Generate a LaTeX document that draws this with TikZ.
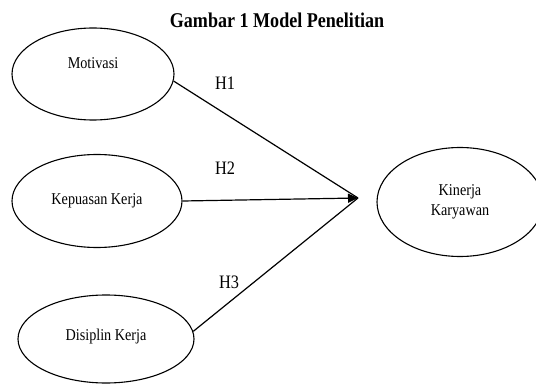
\documentclass[tikz,border=0pt]{standalone}
\usepackage{fontspec}
\setmainfont{Liberation Serif}[FakeStretch=0.86]
\usetikzlibrary{shapes.geometric,arrows.meta}
\begin{document}
\begin{tikzpicture}[x=1pt,y=-1pt,>={Triangle[length=10pt,width=9pt]},
    var/.style={ellipse,draw,line width=1.1pt,inner sep=0pt,
      font=\fontsize{16.5}{20}\selectfont,align=center},
    hyp/.style={font=\fontsize{19}{22}\selectfont,inner sep=0pt},
    path/.style={line width=1.2pt}]
  \clip (0,0) rectangle (536,385);
  \useasboundingbox (0,0) rectangle (536,385);
  \node[font=\fontsize{21}{24}\selectfont\bfseries] (title) at (277,20) {Gambar 1 Model Penelitian};
  \node[var,minimum width=162pt,minimum height=92pt,text depth=22pt] (moti) at (93,74) {Motivasi};
  \node[var,minimum width=170pt,minimum height=93pt] (kep) at (97,201) {Kepuasan Kerja};
  \node[var,minimum width=176pt,minimum height=88pt,text depth=9pt] (disc) at (106,339) {Disiplin Kerja};
  \node[var,minimum width=166pt,minimum height=109pt] (kin) at (460,202) {Kinerja\\Karyawan};
  \coordinate (tip) at (358,198);
  \draw[path] (moti.-5) -- (tip);
  \draw[path,->] (kep.east) -- (tip);
  \draw[path] (disc.5) -- (tip);
  \node[hyp] (h1) at (225,83) {H1};
  \node[hyp] (h2) at (225,168) {H2};
  \node[hyp] (h3) at (229,282) {H3};
\end{tikzpicture}
\end{document}
